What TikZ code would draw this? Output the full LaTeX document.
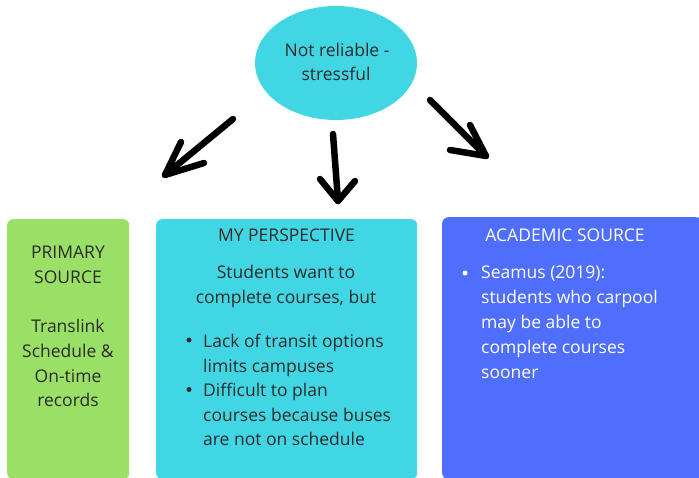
\documentclass[tikz,border=0pt]{standalone}
\usepackage{fontspec}
\setmainfont{Open Sans}
\usetikzlibrary{shapes.geometric}
\definecolor{cgreen}{HTML}{9BE066}
\definecolor{ccyan}{HTML}{41D6E4}
\definecolor{cblue}{HTML}{4F6EFB}
\definecolor{ctext}{HTML}{2A2A2A}
\tikzset{
  box/.style={rounded corners=6pt, anchor=north west, inner sep=0pt},
  ctxt/.style={font=\fontsize{17.5}{24.5}\selectfont, text=ctext, inner sep=0pt, anchor=base},
  ltxt/.style={font=\fontsize{17.5}{24.5}\selectfont, text=ctext, inner sep=0pt, anchor=base west},
  bul/.style={circle, fill=ctext, inner sep=0pt, minimum size=5pt},
  wbul/.style={bul, fill=white},
  harrow/.style={line width=6.5pt, line cap=round, line join=round, black}
}
\begin{document}
\begin{tikzpicture}[x=1pt, y=-1pt]
\useasboundingbox (0,0) rectangle (699,478);
% top ellipse
\node[ellipse, fill=ccyan, minimum width=162pt, minimum height=114pt, inner sep=0pt] (top) at (336,63) {};
\node[ctxt] (top1) at (337,57) {Not reliable -};
\node[ctxt] (top2) at (336,81) {stressful};
% boxes
\node[box, fill=cgreen, minimum width=122pt, minimum height=260pt] (prim) at (7,219) {};
\node[box, fill=ccyan, minimum width=261pt, minimum height=260pt] (persp) at (156,219) {};
\node[box, fill=cblue, minimum width=260pt, minimum height=262pt] (acad) at (442,217) {};
% primary text
\node[ctxt] (prim1) at (68,259) {PRIMARY};
\node[ctxt] (prim2) at (68,283.5) {SOURCE};
\foreach \t [count=\i] in {Translink,Schedule \&,On-time,records}
  \node[ctxt] (primb\i) at (68,{333+24.5*(\i-1)}) {\t};
% perspective text
\node[ctxt] (persph) at (286.5,242) {MY PERSPECTIVE};
\node[ctxt] (persps1) at (286,279) {Students want to};
\node[ctxt] (persps2) at (286,303.5) {complete courses, but};
\foreach \t [count=\i] in {Lack of transit options,limits campuses,Difficult to plan,courses because buses,are not on schedule}
  \node[ltxt] (perspb\i) at (203,{347.5+24.6*(\i-1)}) {\t};
\node[bul] (b1) at (189,340) {};
\node[bul] (b2) at (189,389.5) {};
% academic text
\node[ctxt, text=white] (acadh) at (565,241.5) {ACADEMIC SOURCE};
\foreach \t [count=\i] in {Seamus (2019):,students who carpool,may be able to,complete courses,sooner}
  \node[ltxt, text=white] (acadb\i) at (481,{279+24.8*(\i-1)}) {\t};
\node[wbul] (b3) at (465,273) {};
% arrows
\coordinate (la) at (233,119);
\coordinate (lb) at (165,175);
\coordinate (lw1) at (181,142);
\coordinate (lw2) at (204,163);
\coordinate (ma) at (333,134);
\coordinate (mb) at (338,201);
\coordinate (mw1) at (320,179);
\coordinate (mw2) at (355,181);
\coordinate (ra) at (430,100);
\coordinate (rb) at (486,156);
\coordinate (rw1) at (450,150);
\coordinate (rw2) at (470,125);
\draw[harrow] (la) -- (lb);
\draw[harrow] (lw1) -- (lb) -- (lw2);
\draw[harrow] (ma) -- (mb);
\draw[harrow] (mw1) -- (mb) -- (mw2);
\draw[harrow] (ra) -- (rb);
\draw[harrow] (rw1) -- (rb) -- (rw2);
\end{tikzpicture}
\end{document}
